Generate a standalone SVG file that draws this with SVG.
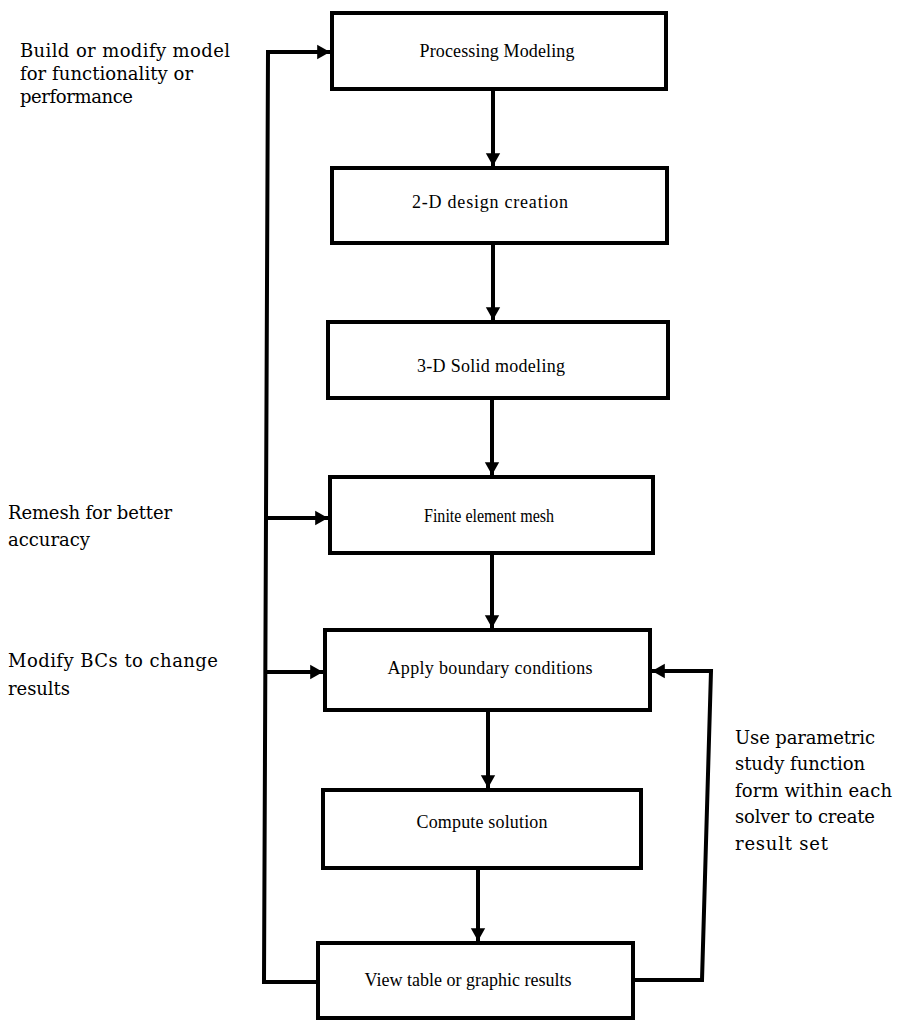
<svg xmlns="http://www.w3.org/2000/svg" width="897" height="1020" viewBox="0 0 897 1020">
<style>
.box{fill:#fff;stroke:#000;stroke-width:4}
.c{fill:none;stroke:#000;stroke-width:4;stroke-linejoin:miter}
.bt{font-family:"Liberation Serif",serif;font-size:18px;fill:#000;text-anchor:middle}
.lt{font-family:"DejaVu Serif","Liberation Serif",serif;font-size:18px;fill:#000}
</style>
<defs>
<marker id="ah" markerWidth="4" markerHeight="4" refX="3.2" refY="2" orient="auto" markerUnits="strokeWidth">
<path d="M0,0.2 L3.2,2 L0,3.8 Z" fill="#000"/>
</marker>
</defs>
<rect width="897" height="1020" fill="#fff"/>
<g id="connectors">
<path class="c" d="M493,89 V166" marker-end="url(#ah)"/>
<path class="c" d="M493,243 V320" marker-end="url(#ah)"/>
<path class="c" d="M492,398 V475" marker-end="url(#ah)"/>
<path class="c" d="M492,553 V628" marker-end="url(#ah)"/>
<path class="c" d="M488,710 V788" marker-end="url(#ah)"/>
<path class="c" d="M478,868 V941" marker-end="url(#ah)"/>
<path class="c" d="M318,982 H264 L268,52 H330" marker-end="url(#ah)"/>
<path class="c" d="M266,518 H328" marker-end="url(#ah)"/>
<path class="c" d="M265,672 H323" marker-end="url(#ah)"/>
<path class="c" d="M633,980 H702 L711,671 H652" marker-end="url(#ah)"/>
</g>
<g id="n1"><rect class="box" x="332" y="13" width="334" height="76"/><text class="bt" x="497" y="57" textLength="155">Processing Modeling</text></g>
<g id="n2"><rect class="box" x="332" y="168" width="335" height="75"/><text class="bt" x="490" y="208" textLength="156">2-D design creation</text></g>
<g id="n3"><rect class="box" x="328" y="322" width="340" height="76"/><text class="bt" x="491" y="372" textLength="148">3-D Solid modeling</text></g>
<g id="n4"><rect class="box" x="330" y="477" width="323" height="76"/><text class="bt" x="489" y="522" textLength="130" lengthAdjust="spacingAndGlyphs">Finite element mesh</text></g>
<g id="n5"><rect class="box" x="325" y="630" width="325" height="80"/><text class="bt" x="490" y="674" textLength="205">Apply boundary conditions</text></g>
<g id="n6"><rect class="box" x="323" y="790" width="318" height="78"/><text class="bt" x="482" y="828" textLength="131">Compute solution</text></g>
<g id="n7"><rect class="box" x="318" y="943" width="315" height="75"/><text class="bt" x="468" y="986" textLength="207">View table or graphic results</text></g>
<g id="labels">
<text class="lt" x="20" y="57" textLength="210">Build or modify model</text>
<text class="lt" x="20" y="80" textLength="173">for functionality or</text>
<text class="lt" x="20" y="103" textLength="113">performance</text>
<text class="lt" x="8" y="519" textLength="164">Remesh for better</text>
<text class="lt" x="8" y="546" textLength="82">accuracy</text>
<text class="lt" x="8" y="667" textLength="210">Modify BCs to change</text>
<text class="lt" x="8" y="695" textLength="62">results</text>
<text class="lt" x="735" y="744" textLength="140">Use parametric</text>
<text class="lt" x="735" y="770" textLength="130">study function</text>
<text class="lt" x="735" y="797" textLength="157">form within each</text>
<text class="lt" x="735" y="823" textLength="140">solver to create</text>
<text class="lt" x="735" y="850" textLength="93">result set</text>
</g>
</svg>
